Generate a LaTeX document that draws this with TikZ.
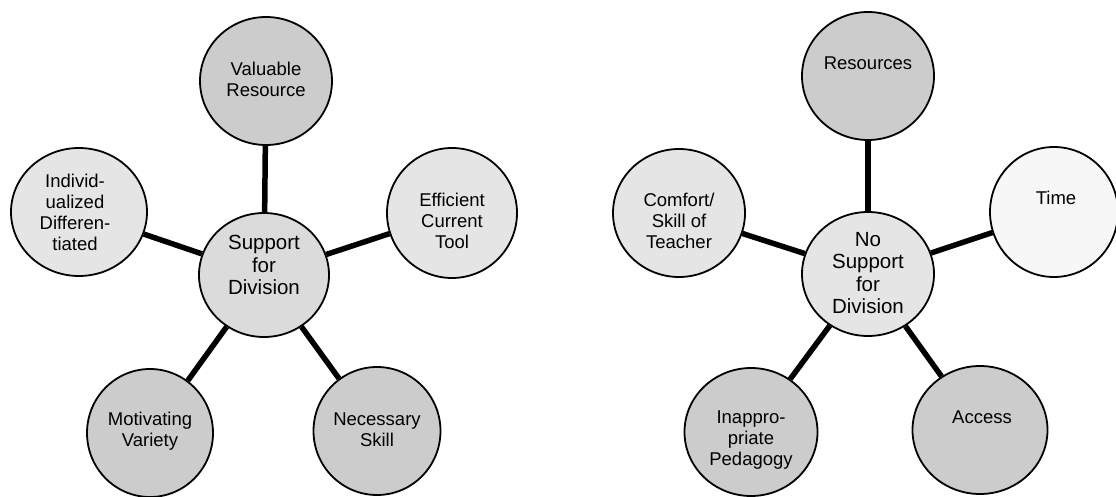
\documentclass[tikz,border=0pt]{standalone}
\usepackage{fontspec}
\setmainfont{Liberation Sans}
\usetikzlibrary{shapes.geometric,calc}
\definecolor{darkfill}{gray}{0.80}
\definecolor{lightfill}{gray}{0.90}
\definecolor{midfill}{gray}{0.86}
\definecolor{palefill}{gray}{0.97}
\tikzset{
  bubble/.style={ellipse, draw=black, line width=1.8pt, inner sep=0pt,
    minimum width=132pt, minimum height=128pt},
  hub/.style={bubble, minimum width=130pt, minimum height=124pt},
  txt/.style={align=center, inner sep=0pt, font=\fontsize{18.5}{21}\selectfont},
  hubtxt/.style={align=center, inner sep=0pt, font=\fontsize{20.5}{22.5}\selectfont},
  spoke/.style={line width=5.5pt}
}
\begin{document}
\begin{tikzpicture}[x=1pt,y=-1pt]
\useasboundingbox (0,0) rectangle (1116,497);
\clip (0,0) rectangle (1116,497);
\fill[white] (0,0) rectangle (1116,497);
% left diagram
\node[hub, fill=midfill] (c1) at (264,275) {};
\node[bubble, fill=darkfill] (vr) at (266,81) {};
\node[bubble, fill=lightfill, minimum width=136pt] (id) at (79,212) {};
\node[bubble, fill=lightfill, minimum width=130pt, minimum height=130pt] (ef) at (452,213) {};
\node[bubble, fill=darkfill, minimum width=126pt] (mv) at (150,433) {};
\node[bubble, fill=darkfill, minimum width=127pt] (ns) at (377,431) {};
% right diagram
\node[hub, fill=lightfill, minimum width=132pt] (c2) at (868,274) {};
\node[bubble, fill=darkfill] (rs) at (868,76) {};
\node[bubble, fill=lightfill] (cf) at (679,213) {};
\node[bubble, fill=palefill, minimum width=128pt, minimum height=130pt] (tm) at (1054,212) {};
\node[bubble, fill=darkfill, minimum width=133pt] (ip) at (751,432) {};
\node[bubble, fill=darkfill, minimum width=135pt] (ac) at (980,430) {};
% spokes
\draw[spoke] (c1) -- (vr);
\draw[spoke] (c1) -- (id);
\draw[spoke] (c1) -- (ef);
\draw[spoke] (c1) -- (mv);
\draw[spoke] (c1) -- (ns);
\draw[spoke] (c2) -- (rs);
\draw[spoke] (c2) -- (cf);
\draw[spoke] (c2) -- (tm);
\draw[spoke] (c2) -- (ip);
\draw[spoke] (c2) -- (ac);
% texts
\node[hubtxt] (c1t) at (264,265) {Support\\for\\Division};
\node[txt] (vrt) at (266,79) {Valuable\\Resource};
\node[txt] (idt) at (75,212) {Individ-\\ualized\\Differen-\\tiated};
\node[txt] (eft) at (452,221) {Efficient\\Current\\Tool};
\node[txt] (mvt) at (150,431) {Motivating\\Variety};
\node[txt] (nst) at (377,430) {Necessary\\Skill};
\node[hubtxt] (c2t) at (868,273) {No\\Support\\for\\Division};
\node[txt] (rst) at (868,63) {Resources};
\node[txt] (cft) at (679,221) {Comfort/\\Skill of\\Teacher};
\node[txt] (tmt) at (1056,198) {Time};
\node[txt] (ipt) at (751,440) {Inappro-\\priate\\Pedagogy};
\node[txt] (act) at (982,417) {Access};
\end{tikzpicture}
\end{document}
